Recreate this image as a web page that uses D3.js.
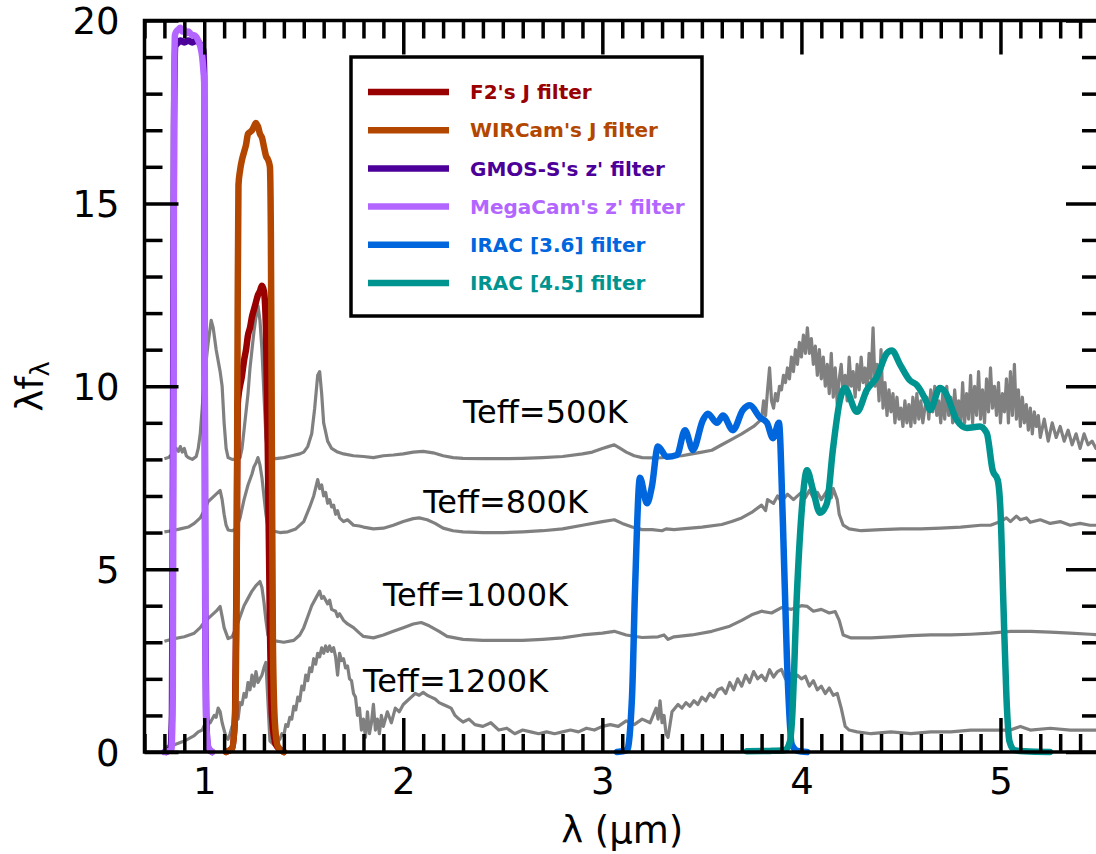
<!DOCTYPE html>
<html>
<head>
<meta charset="utf-8">
<script src="https://cdn.jsdelivr.net/npm/d3@7"></script>
<style>
  html, body { margin: 0; padding: 0; background: #fff; }
  svg { display: block; font-family: "DejaVu Sans", sans-serif; }
</style>
</head>
<body>
<svg id="chart" width="1096" height="854"></svg>
<script>
// ---------------- data ----------------
const xMajorTicks = [1, 2, 3, 4, 5];
const yMajorTicks = [0, 5, 10, 15, 20];

// model spectra (lambda [um], lambda*f_lambda, already offset)
const spec500 = [[0.80,8.02],[0.82,8.05],[0.84,8.15],[0.86,8.3],[0.87,8.22],[0.88,8.35],[0.89,8.2],[0.90,8.3],[0.91,8.1],[0.92,8.05],[0.94,8.0],[0.96,8.08],[0.97,8.3],[0.98,8.7],[0.99,9.4],[1.00,10.2],[1.02,11.2],[1.035,11.8],[1.045,11.6],[1.06,11.0],[1.08,10.4],[1.09,10.0],[1.10,9.0],[1.11,8.3],[1.12,8.05],[1.14,8.0],[1.16,8.0],[1.18,8.05],[1.19,8.3],[1.20,8.8],[1.21,9.3],[1.22,9.8],[1.23,10.5],[1.24,11.0],[1.25,11.5],[1.26,11.9],[1.27,12.2],[1.28,11.8],[1.29,11.0],[1.30,9.8],[1.31,8.6],[1.32,8.15],[1.33,8.05],[1.36,8.02],[1.40,8.05],[1.44,8.1],[1.48,8.15],[1.50,8.2],[1.52,8.35],[1.54,8.7],[1.555,9.4],[1.57,10.3],[1.58,10.4],[1.59,9.8],[1.60,9.0],[1.62,8.5],[1.64,8.3],[1.67,8.2],[1.70,8.15],[1.75,8.1],[1.80,8.08],[1.85,8.05],[1.90,8.1],[1.95,8.12],[2.00,8.15],[2.05,8.2],[2.10,8.22],[2.15,8.18],[2.20,8.1],[2.25,8.05],[2.30,8.03],[2.40,8.02],[2.50,8.02],[2.60,8.03],[2.70,8.05],[2.80,8.08],[2.90,8.15],[2.95,8.2],[3.00,8.3],[3.03,8.35],[3.06,8.4],[3.09,8.3],[3.12,8.2],[3.16,8.1],[3.20,8.05],[3.26,8.04],[3.30,8.05],[3.35,8.08],[3.40,8.1],[3.45,8.15],[3.50,8.2],[3.55,8.25],[3.60,8.4],[3.65,8.55],[3.70,8.7],[3.73,8.8],[3.76,8.9],[3.78,9.0],[3.80,9.1],[3.81,9.6],[3.82,9.2],[3.83,9.9],[3.84,10.5],[3.85,9.6],[3.86,9.4],[3.87,9.8],[3.88,9.6],[3.89,10.0],[3.90,9.9],[3.91,10.3],[3.92,10.1],[3.93,10.5],[3.94,10.2],[3.95,10.8],[3.96,10.4],[3.97,11.0],[3.98,10.6],[3.99,11.2],[4.00,10.8],[4.01,11.4],[4.02,10.9],[4.03,11.6],[4.04,10.9],[4.05,11.3],[4.06,10.6],[4.07,11.1],[4.08,10.3],[4.09,11.0],[4.10,10.2],[4.11,10.8],[4.12,10.0],[4.13,10.6],[4.14,9.8],[4.15,10.9],[4.16,9.7],[4.17,10.5],[4.18,9.5],[4.19,10.2],[4.20,10.6],[4.21,9.8],[4.22,10.3],[4.23,9.6],[4.24,10.8],[4.25,10.0],[4.26,10.4],[4.27,9.7],[4.28,10.6],[4.29,9.9],[4.30,10.8],[4.31,10.1],[4.32,10.5],[4.33,9.8],[4.34,10.9],[4.35,10.2],[4.36,11.6],[4.37,10.0],[4.38,10.6],[4.39,9.6],[4.40,11.0],[4.41,9.4],[4.42,10.1],[4.43,9.2],[4.44,9.9],[4.45,9.3],[4.46,9.8],[4.47,9.0],[4.48,9.7],[4.49,9.1],[4.50,9.4],[4.51,8.9],[4.52,9.6],[4.53,9.0],[4.54,9.5],[4.55,8.9],[4.56,9.7],[4.57,9.0],[4.58,9.8],[4.59,9.1],[4.60,9.6],[4.61,9.0],[4.62,9.4],[4.63,9.7],[4.64,9.1],[4.65,9.9],[4.66,9.3],[4.67,10.0],[4.68,9.2],[4.69,9.6],[4.70,9.0],[4.71,9.8],[4.72,9.1],[4.73,10.0],[4.74,9.2],[4.75,9.7],[4.76,9.0],[4.77,9.9],[4.78,9.2],[4.79,9.6],[4.80,8.9],[4.81,10.1],[4.82,9.0],[4.83,9.8],[4.84,9.1],[4.85,10.3],[4.86,9.0],[4.87,10.0],[4.88,9.2],[4.89,10.4],[4.90,9.1],[4.91,9.9],[4.92,9.0],[4.93,10.2],[4.94,9.3],[4.95,10.5],[4.96,9.4],[4.97,10.0],[4.98,9.2],[4.99,10.1],[5.00,9.0],[5.01,9.8],[5.02,9.3],[5.03,10.2],[5.04,9.0],[5.05,10.4],[5.06,9.2],[5.07,10.6],[5.08,9.1],[5.09,9.9],[5.10,8.9],[5.11,9.7],[5.12,9.0],[5.13,9.5],[5.14,8.8],[5.15,9.4],[5.16,8.7],[5.17,9.3],[5.18,8.9],[5.19,9.2],[5.20,8.6],[5.22,9.1],[5.24,8.5],[5.26,9.0],[5.28,8.6],[5.30,8.9],[5.32,8.5],[5.34,8.8],[5.36,8.4],[5.38,8.7],[5.40,8.3],[5.42,8.7],[5.44,8.4],[5.46,8.5],[5.48,8.3],[5.50,8.4]];

const spec800 = [[0.80,6.02],[0.84,6.05],[0.88,6.1],[0.92,6.15],[0.95,6.25],[0.98,6.4],[1.00,6.6],[1.02,6.85],[1.04,6.95],[1.06,7.05],[1.08,7.15],[1.09,6.9],[1.10,6.5],[1.11,6.2],[1.12,6.07],[1.14,6.05],[1.16,6.1],[1.18,6.4],[1.20,6.9],[1.22,7.3],[1.24,7.6],[1.25,7.8],[1.26,7.9],[1.27,8.05],[1.28,7.85],[1.29,7.5],[1.30,7.0],[1.31,6.5],[1.32,6.15],[1.34,6.05],[1.38,6.0],[1.42,6.02],[1.46,6.1],[1.50,6.3],[1.53,6.7],[1.55,7.0],[1.57,7.45],[1.58,7.2],[1.59,7.3],[1.60,7.0],[1.61,7.1],[1.62,6.8],[1.63,6.9],[1.64,6.7],[1.65,6.75],[1.66,6.5],[1.67,6.6],[1.68,6.4],[1.70,6.3],[1.72,6.35],[1.75,6.2],[1.78,6.18],[1.80,6.15],[1.85,6.1],[1.90,6.12],[1.95,6.2],[2.00,6.3],[2.05,6.38],[2.08,6.4],[2.12,6.35],[2.16,6.25],[2.20,6.12],[2.25,6.05],[2.30,6.02],[2.40,6.0],[2.50,6.0],[2.60,6.02],[2.70,6.05],[2.80,6.1],[2.90,6.2],[3.00,6.3],[3.06,6.35],[3.10,6.25],[3.15,6.15],[3.20,6.08],[3.25,6.08],[3.30,6.05],[3.32,6.1],[3.36,6.08],[3.40,6.1],[3.50,6.15],[3.60,6.22],[3.65,6.3],[3.70,6.4],[3.75,6.55],[3.80,6.75],[3.82,6.6],[3.83,6.9],[3.86,6.8],[3.88,7.0],[3.90,6.85],[3.93,7.05],[3.96,6.9],[4.00,7.1],[4.02,6.95],[4.04,7.15],[4.06,6.95],[4.08,7.1],[4.10,6.9],[4.13,7.15],[4.15,6.95],[4.16,7.2],[4.18,6.9],[4.19,6.5],[4.21,6.2],[4.24,6.1],[4.30,6.05],[4.40,6.08],[4.50,6.1],[4.60,6.1],[4.70,6.12],[4.80,6.15],[4.90,6.2],[4.95,6.2],[5.00,6.3],[5.03,6.4],[5.05,6.3],[5.08,6.45],[5.10,6.35],[5.13,6.4],[5.15,6.28],[5.20,6.35],[5.25,6.25],[5.30,6.3],[5.35,6.2],[5.40,6.25],[5.45,6.2],[5.50,6.2]];

const spec1000 = [[0.80,3.03],[0.85,3.1],[0.90,3.15],[0.95,3.25],[0.98,3.4],[1.00,3.55],[1.03,3.7],[1.06,3.85],[1.08,3.98],[1.09,3.7],[1.10,3.4],[1.12,3.1],[1.14,3.15],[1.16,3.4],[1.18,3.7],[1.20,4.0],[1.22,4.2],[1.24,4.4],[1.26,4.55],[1.28,4.66],[1.29,4.5],[1.30,4.1],[1.31,3.6],[1.32,3.2],[1.34,3.05],[1.40,3.0],[1.45,3.05],[1.48,3.2],[1.50,3.4],[1.52,3.7],[1.54,4.0],[1.56,4.2],[1.58,4.4],[1.59,4.2],[1.60,4.25],[1.62,4.05],[1.63,4.15],[1.64,3.9],[1.66,3.85],[1.67,3.7],[1.68,3.78],[1.70,3.6],[1.72,3.5],[1.75,3.4],[1.78,3.25],[1.80,3.16],[1.85,3.12],[1.90,3.2],[1.95,3.3],[2.00,3.4],[2.05,3.5],[2.09,3.54],[2.13,3.45],[2.18,3.3],[2.22,3.16],[2.30,3.08],[2.40,3.05],[2.50,3.05],[2.60,3.05],[2.70,3.08],[2.80,3.12],[2.90,3.2],[3.00,3.25],[3.06,3.3],[3.12,3.2],[3.20,3.13],[3.28,3.15],[3.31,3.2],[3.33,3.08],[3.36,3.15],[3.45,3.2],[3.55,3.3],[3.64,3.44],[3.70,3.6],[3.75,3.75],[3.80,3.85],[3.85,3.8],[3.90,3.95],[3.95,3.9],[4.00,4.0],[4.03,3.98],[4.06,3.85],[4.10,3.9],[4.14,3.8],[4.17,3.84],[4.19,3.6],[4.21,3.2],[4.25,3.12],[4.35,3.12],[4.45,3.15],[4.55,3.18],[4.65,3.2],[4.75,3.2],[4.85,3.22],[4.95,3.25],[5.05,3.3],[5.15,3.3],[5.25,3.28],[5.35,3.25],[5.45,3.22],[5.50,3.2]];

const spec1200 = [[0.80,0.13],[0.85,0.2],[0.90,0.3],[0.95,0.45],[0.97,0.55],[0.99,0.6],[1.01,0.85],[1.03,0.8],[1.05,1.0],[1.06,0.95],[1.07,1.2],[1.08,1.1],[1.09,0.8],[1.10,0.6],[1.11,0.4],[1.12,0.35],[1.13,0.5],[1.14,0.7],[1.15,0.65],[1.16,1.0],[1.17,0.9],[1.18,1.35],[1.19,1.3],[1.20,1.6],[1.21,1.5],[1.22,1.9],[1.23,1.7],[1.24,2.1],[1.25,1.8],[1.26,2.2],[1.27,1.9],[1.28,2.0],[1.29,2.1],[1.30,2.3],[1.31,2.45],[1.32,1.4],[1.33,0.3],[1.35,0.2],[1.37,0.3],[1.38,0.35],[1.39,0.5],[1.40,0.45],[1.41,0.75],[1.42,0.7],[1.43,0.95],[1.44,0.9],[1.45,1.25],[1.46,1.15],[1.47,1.5],[1.48,1.4],[1.49,1.8],[1.50,1.7],[1.51,2.1],[1.52,1.95],[1.53,2.3],[1.54,2.2],[1.55,2.55],[1.56,2.4],[1.57,2.7],[1.58,2.6],[1.59,2.85],[1.60,2.7],[1.61,2.9],[1.62,2.75],[1.63,2.9],[1.64,2.75],[1.65,2.85],[1.66,2.6],[1.67,2.1],[1.68,2.7],[1.69,2.5],[1.70,2.55],[1.71,2.3],[1.72,2.35],[1.73,2.0],[1.74,1.95],[1.75,1.6],[1.76,1.5],[1.77,1.0],[1.78,1.2],[1.79,0.6],[1.80,0.9],[1.81,0.4],[1.82,1.1],[1.83,0.5],[1.84,0.8],[1.85,1.3],[1.86,0.6],[1.87,0.9],[1.88,0.5],[1.89,1.0],[1.90,0.7],[1.92,1.1],[1.94,0.8],[1.96,1.2],[1.98,1.1],[2.00,1.3],[2.02,1.4],[2.04,1.5],[2.06,1.6],[2.08,1.55],[2.10,1.63],[2.12,1.55],[2.14,1.5],[2.16,1.45],[2.18,1.35],[2.20,1.3],[2.22,1.25],[2.24,1.2],[2.26,1.0],[2.28,0.9],[2.30,0.82],[2.33,0.9],[2.36,0.75],[2.40,0.7],[2.44,0.8],[2.48,0.6],[2.52,0.65],[2.56,0.5],[2.60,0.6],[2.64,0.55],[2.68,0.5],[2.72,0.55],[2.76,0.5],[2.80,0.55],[2.84,0.6],[2.88,0.55],[2.92,0.65],[2.96,0.6],[3.00,0.7],[3.04,0.75],[3.08,0.7],[3.12,0.85],[3.16,0.75],[3.20,0.9],[3.24,0.8],[3.27,1.2],[3.28,0.9],[3.29,1.4],[3.30,0.8],[3.31,1.0],[3.32,0.5],[3.33,0.4],[3.35,1.1],[3.38,1.3],[3.40,1.2],[3.42,1.35],[3.44,1.25],[3.46,1.4],[3.48,1.3],[3.50,1.5],[3.52,1.4],[3.54,1.6],[3.56,1.5],[3.58,1.7],[3.60,1.75],[3.62,1.6],[3.64,1.9],[3.66,1.7],[3.68,2.0],[3.70,1.8],[3.72,2.1],[3.74,1.9],[3.76,2.2],[3.78,2.0],[3.80,2.1],[3.82,1.95],[3.84,2.25],[3.86,2.05],[3.88,2.2],[3.90,2.26],[3.92,2.0],[3.94,2.15],[3.96,1.95],[3.98,2.1],[4.00,2.0],[4.02,2.07],[4.04,1.8],[4.06,1.95],[4.08,1.7],[4.10,1.8],[4.12,1.6],[4.14,1.75],[4.16,1.55],[4.18,1.6],[4.20,1.2],[4.22,0.7],[4.24,0.6],[4.28,0.55],[4.35,0.5],[4.45,0.55],[4.55,0.5],[4.65,0.55],[4.75,0.55],[4.85,0.6],[4.95,0.6],[5.05,0.6],[5.10,0.7],[5.15,0.6],[5.25,0.65],[5.35,0.6],[5.45,0.6],[5.50,0.6]];

// filter transmission curves (scaled)
const filterF2J = [[1.11,0],[1.14,0.1],[1.155,1],[1.163,5],[1.168,9.5],[1.19,10.3],[1.20,10.7],[1.21,11.0],[1.22,11.4],[1.23,11.6],[1.24,11.9],[1.25,12.1],[1.26,12.3],[1.27,12.5],[1.28,12.6],[1.29,12.75],[1.30,12.6],[1.31,11.6],[1.32,8],[1.33,3.5],[1.34,1],[1.36,0.2],[1.40,0]];
const filterWIRCamJ = [[1.11,0],[1.14,0.1],[1.155,1],[1.163,5],[1.168,12],[1.172,15.5],[1.18,15.9],[1.19,16.2],[1.20,16.4],[1.21,16.6],[1.22,16.9],[1.23,16.95],[1.24,17.0],[1.25,17.1],[1.26,17.2],[1.265,17.15],[1.27,17.1],[1.28,16.9],[1.29,16.8],[1.30,16.55],[1.31,16.3],[1.32,16.2],[1.33,16.0],[1.335,14],[1.34,8],[1.345,3],[1.355,0.8],[1.37,0.15],[1.40,0]];
const filterGMOSz = [[0.81,0],[0.83,0.1],[0.838,1],[0.843,8],[0.848,17],[0.855,19.3],[0.87,19.4],[0.88,19.45],[0.90,19.4],[0.92,19.45],[0.94,19.4],[0.96,19.45],[0.98,19.35],[0.995,19.2],[1.0,18.5],[1.002,12],[1.005,4],[1.01,1],[1.02,0.1],[1.04,0]];
const filterMegaCamz = [[0.80,0],[0.835,0.05],[0.842,1.5],[0.846,10],[0.849,18],[0.853,19.6],[0.86,19.7],[0.87,19.75],[0.88,19.8],[0.89,19.7],[0.90,19.75],[0.91,19.65],[0.92,19.7],[0.93,19.65],[0.94,19.6],[0.95,19.6],[0.96,19.55],[0.97,19.45],[0.98,19.3],[0.99,19.0],[0.995,18.7],[1.0,18.3],[1.003,10],[1.006,3],[1.01,0.8],[1.02,0.15],[1.04,0]];
const filterIRAC1 = [[3.074,0],[3.124,0.05],[3.149,1.5],[3.164,4.4],[3.189,7.5],[3.224,6.8],[3.249,7.26],[3.279,8.35],[3.324,8.07],[3.375,8.12],[3.415,8.8],[3.455,8.26],[3.505,9.07],[3.53,9.25],[3.576,9.0],[3.606,9.2],[3.656,8.8],[3.706,9.35],[3.741,9.48],[3.791,9.15],[3.827,9.0],[3.857,8.58],[3.887,9.0],[3.907,6.27],[3.927,2.6],[3.952,0.2],[3.98,0.03],[4.028,0]];
const filterIRAC2 = [[3.726,0.02],[3.842,0.03],[3.917,0.05],[3.943,0.3],[3.952,0.8],[3.978,4.4],[4.003,6.7],[4.028,7.7],[4.058,7.17],[4.093,6.54],[4.128,6.8],[4.158,8.26],[4.193,9.6],[4.218,9.95],[4.279,9.3],[4.329,9.9],[4.379,10.25],[4.429,10.9],[4.454,10.98],[4.495,10.6],[4.545,10.16],[4.58,10.03],[4.631,9.54],[4.646,9.35],[4.696,9.95],[4.721,9.85],[4.781,9.07],[4.831,8.86],[4.896,8.9],[4.931,8.72],[4.961,7.7],[4.986,7.44],[5.0,6.6],[5.015,4],[5.03,1.5],[5.045,0.3],[5.07,0.05],[5.12,0.02],[5.248,0]];

const filterNames = ["F2's J filter", "WIRCam's J filter", "GMOS-S's z' filter", "MegaCam's z' filter", "IRAC [3.6] filter", "IRAC [4.5] filter"];
const filterColors = ["#990000", "#b34700", "#4c0099", "#b266ff", "#0066dd", "#009490"];
const filterSeries = [filterF2J, filterWIRCamJ, filterGMOSz, filterMegaCamz, filterIRAC1, filterIRAC2];

const spectra = [spec500, spec800, spec1000, spec1200];
const teffLabels = ["Teff=500K", "Teff=800K", "Teff=1000K", "Teff=1200K"];
const teffLabelX = [2.30, 2.10, 1.898, 1.798];
const teffLabelY = [9.0, 6.53, 3.99, 1.64];

// ---------------- drawing ----------------
const svg = d3.select("#chart");
const L = 144.5, R = 1100, T = 20.5, B = 752;
const x = d3.scaleLinear().domain([0.7, 5.5]).range([L, R]);
const y = d3.scaleLinear().domain([0, 20]).range([B, T]);

const line = d3.line().x(d => x(d[0])).y(d => y(d[1]));
const smoothLine = d3.line().x(d => x(d[0])).y(d => y(d[1])).curve(d3.curveMonotoneX);

const gData = svg.append("g");
spectra.forEach(s => {
  gData.append("path").datum(s).attr("d", line)
    .attr("fill", "none").attr("stroke", "#808080")
    .attr("stroke-width", 3.2).attr("stroke-linejoin", "round");
});
filterSeries.forEach((s, i) => {
  gData.append("path").datum(s).attr("d", smoothLine)
    .attr("fill", "none").attr("stroke", filterColors[i])
    .attr("stroke-width", 6.5).attr("stroke-linejoin", "round").attr("stroke-linecap", "round");
});

// Teff annotations
svg.append("g").selectAll("text").data(teffLabels).join("text")
  .attr("x", (d, i) => x(teffLabelX[i]))
  .attr("y", (d, i) => y(teffLabelY[i]))
  .attr("font-size", 32).attr("fill", "#000")
  .text(d => d);

// axes (ticks inward)
const minorX = d3.range(7, 56).map(v => v / 10).filter(v => !xMajorTicks.includes(v));
const minorY = d3.range(0, 21).filter(v => !yMajorTicks.includes(v));
const MAJ = 34, MIN = 18, TW = 3.5;

function styleAxis(g) {
  g.select(".domain").remove();
  g.selectAll(".tick line").attr("stroke", "#000").attr("stroke-width", TW);
}
const fs = 37;
// bottom
svg.append("g").attr("transform", `translate(0,${B})`)
  .call(d3.axisBottom(x).tickValues(xMajorTicks).tickSize(-MAJ).tickPadding(0).tickFormat(d3.format("d")))
  .call(styleAxis)
  .call(g => g.selectAll(".tick text").attr("font-size", fs).attr("font-family", "DejaVu Sans").attr("fill", "#000").attr("y", 42).attr("dy", 0));
svg.append("g").attr("transform", `translate(0,${B})`)
  .call(d3.axisBottom(x).tickValues(minorX).tickSize(-MIN).tickFormat(""))
  .call(styleAxis);
// top
svg.append("g").attr("transform", `translate(0,${T})`)
  .call(d3.axisTop(x).tickValues(xMajorTicks).tickSize(-MAJ).tickFormat(""))
  .call(styleAxis);
svg.append("g").attr("transform", `translate(0,${T})`)
  .call(d3.axisTop(x).tickValues(minorX).tickSize(-MIN).tickFormat(""))
  .call(styleAxis);
// left
svg.append("g").attr("transform", `translate(${L},0)`)
  .call(d3.axisLeft(y).tickValues(yMajorTicks).tickSize(-MAJ).tickPadding(0).tickFormat(d3.format("d")))
  .call(styleAxis)
  .call(g => g.selectAll(".tick text").attr("font-size", fs).attr("font-family", "DejaVu Sans").attr("fill", "#000").attr("x", -25).attr("dy", "0.364em"));
svg.append("g").attr("transform", `translate(${L},0)`)
  .call(d3.axisLeft(y).tickValues(minorY).tickSize(-MIN).tickFormat(""))
  .call(styleAxis);
// right
svg.append("g").attr("transform", `translate(${R},0)`)
  .call(d3.axisRight(y).tickValues(yMajorTicks).tickSize(-MAJ).tickFormat(""))
  .call(styleAxis);
svg.append("g").attr("transform", `translate(${R},0)`)
  .call(d3.axisRight(y).tickValues(minorY).tickSize(-MIN).tickFormat(""))
  .call(styleAxis);

// frame
svg.append("rect").attr("x", L).attr("y", T).attr("width", R - L).attr("height", B - T)
  .attr("fill", "none").attr("stroke", "#000").attr("stroke-width", 3.5);

// axis labels
svg.append("text").attr("x", (L + R) / 2).attr("y", 843).attr("text-anchor", "middle")
  .attr("font-size", fs).attr("fill", "#000").text("λ (μm)");
const yl = svg.append("text").attr("transform", `translate(43,${(T + B) / 2}) rotate(-90)`)
  .attr("text-anchor", "middle").attr("font-size", fs).attr("fill", "#000");
yl.append("tspan").text("λf");
yl.append("tspan").attr("font-size", fs * 0.7).attr("dy", "0.25em").text("λ");

// legend
const lg = svg.append("g");
lg.append("rect").attr("x", 351).attr("y", 57).attr("width", 351).attr("height", 259)
  .attr("fill", "#fff").attr("stroke", "#000").attr("stroke-width", 3.5);
const rowY = d3.scalePoint().domain(filterNames).range([92, 283]);
filterNames.forEach((n, i) => {
  lg.append("line").attr("x1", 368).attr("x2", 449).attr("y1", rowY(n)).attr("y2", rowY(n))
    .attr("stroke", filterColors[i]).attr("stroke-width", 6.5);
  lg.append("text").attr("x", 470).attr("y", rowY(n)).attr("dy", "0.36em")
    .attr("font-size", 20).attr("font-weight", "bold").attr("fill", filterColors[i]).text(n);
});
</script>
</body>
</html>
